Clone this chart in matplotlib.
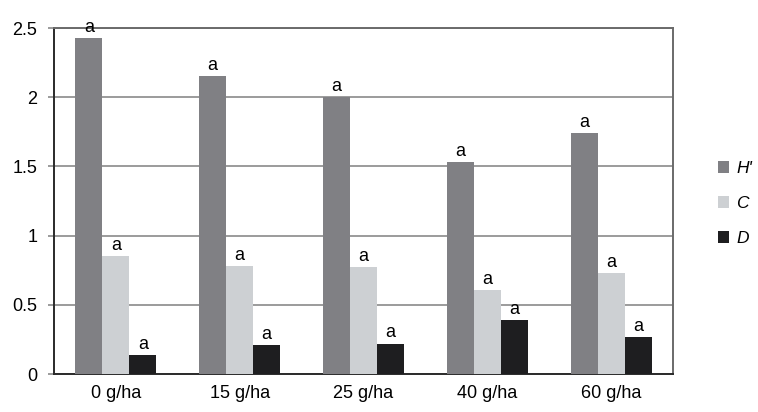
import numpy as np
import matplotlib
matplotlib.use('Agg')
import matplotlib.pyplot as plt
from matplotlib.patches import Patch

plt.rcParams['font.family'] = ['Liberation Sans', 'DejaVu Sans']

categories = ['0 g/ha', '15 g/ha', '25 g/ha', '40 g/ha', '60 g/ha']
series_names = ["H'", 'C', 'D']
h_vals = [2.43, 2.15, 2.0, 1.53, 1.74]
c_vals = [0.855, 0.78, 0.775, 0.607, 0.73]
d_vals = [0.14, 0.21, 0.22, 0.39, 0.265]
letters = ['a', 'a', 'a', 'a', 'a']
colors = ['#808084', '#cdd0d3', '#1e1e20']

fs = 13

fig = plt.figure(figsize=(7.58, 4.12), dpi=100)
ax = fig.add_axes([0.0712, 0.0922, 0.8168, 0.8398])

x = np.arange(len(categories))
w = 0.218
for i, vals in enumerate([h_vals, c_vals, d_vals]):
    pos = x + (i - 1) * w
    ax.bar(pos, vals, width=w, color=colors[i], zorder=3)
    for p, v, l in zip(pos, vals, letters):
        ax.annotate(l, (p, v), xytext=(0, 1.5), textcoords='offset points',
                    ha='center', va='bottom', fontsize=fs)

ax.set_xlim(-0.5, len(categories) - 0.5)
ax.set_ylim(0, 2.5)
ax.set_yticks([0, 0.5, 1, 1.5, 2, 2.5])
ax.set_yticklabels(['0', '0.5', '1', '1.5', '2', '2.5'])
ax.set_xticks(x)
ax.set_xticklabels(categories)
ax.yaxis.grid(True, color='#8a8a8a', linewidth=1.2, zorder=0)
ax.tick_params(axis='y', length=4, color='#8a8a8a', width=1.2, labelsize=fs, pad=8)
ax.tick_params(axis='x', length=0, labelsize=fs, pad=8)

for s in ['left', 'bottom']:
    ax.spines[s].set_color('#2a2a2a')
    ax.spines[s].set_linewidth(1.4)
for s in ['top', 'right']:
    ax.spines[s].set_color('#6a6a6a')
    ax.spines[s].set_linewidth(1.4)

handles = [Patch(facecolor=c, edgecolor='none') for c in colors]
leg = ax.legend(handles, series_names, loc='center left', bbox_to_anchor=(1.053, 0.492),
                frameon=False, handlelength=0.64, handleheight=0.64, labelspacing=1.15,
                handletextpad=0.4, fontsize=12.5, borderaxespad=0.3)
for t in leg.get_texts():
    t.set_fontstyle('italic')

fig.savefig('out.png', dpi=100)
